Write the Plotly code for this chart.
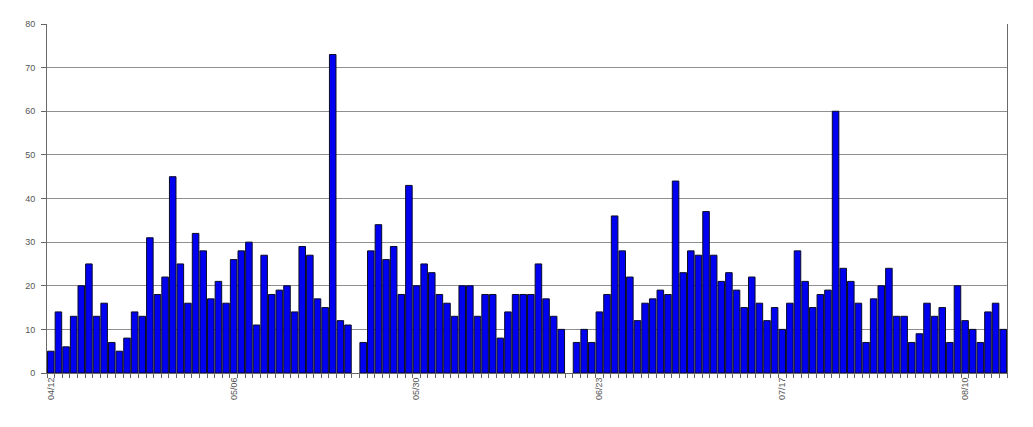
import pandas as pd
import plotly.graph_objects as go

start_date = "2000-04-12"
values = [
    5, 14, 6, 13, 20, 25, 13, 16, 7, 5,
    8, 14, 13, 31, 18, 22, 45, 25, 16, 32,
    28, 17, 21, 16, 26, 28, 30, 11, 27, 18,
    19, 20, 14, 29, 27, 17, 15, 73, 12, 11,
    None, 7, 28, 34, 26, 29, 18, 43, 20, 25,
    23, 18, 16, 13, 20, 20, 13, 18, 18, 8,
    14, 18, 18, 18, 25, 17, 13, 10, None, 7,
    10, 7, 14, 18, 36, 28, 22, 12, 16, 17,
    19, 18, 44, 23, 28, 27, 37, 27, 21, 23,
    19, 15, 22, 16, 12, 15, 10, 16, 28, 21,
    15, 18, 19, 60, 24, 21, 16, 7, 17, 20,
    24, 13, 13, 7, 9, 16, 13, 15, 7, 20,
    12, 10, 7, 14, 16, 10,
]
y_ticks = [0, 10, 20, 30, 40, 50, 60, 70, 80]

dates = pd.date_range(start_date, periods=len(values), freq="D")
label_dates = dates[::24]

fig = go.Figure(
    go.Bar(
        x=dates,
        y=values,
        marker=dict(color="#0000F0", line=dict(color="#0a0a28", width=1)),
    )
)

day_ms = 24 * 3600 * 1000
fig.update_layout(
    width=1033,
    height=427,
    margin=dict(l=39, r=34, t=16, b=62),
    paper_bgcolor="white",
    plot_bgcolor="white",
    bargap=0.14,
    showlegend=False,
    font=dict(family="Liberation Sans, Arial, sans-serif", size=9, color="#555555"),
    xaxis=dict(
        type="date",
        range=[dates[0] - pd.Timedelta(hours=12), dates[-1] + pd.Timedelta(hours=12)],
        tickvals=list(label_dates),
        ticktext=[d.strftime("%m/%d") for d in label_dates],
        tickangle=-90,
        ticks="",
        showgrid=False,
        showline=True,
        linecolor="#666666",
        linewidth=1,
        zeroline=False,
        minor=dict(
            ticks="outside",
            ticklen=4,
            tickcolor="#666666",
            tick0=dates[0] - pd.Timedelta(hours=12),
            dtick=day_ms,
            showgrid=False,
        ),
        ticklabelstandoff=0,
    ),
    yaxis=dict(
        range=[0, 80],
        tickvals=y_ticks,
        ticks="outside",
        ticklen=5,
        tickcolor="#666666",
        showgrid=True,
        gridcolor="#8f8f8f",
        gridwidth=1.3,
        showline=True,
        mirror=True,
        linecolor="#6a6a6a",
        linewidth=1,
        zeroline=False,
        ticklabelstandoff=4,
    ),
)

fig.write_html("out.html")
